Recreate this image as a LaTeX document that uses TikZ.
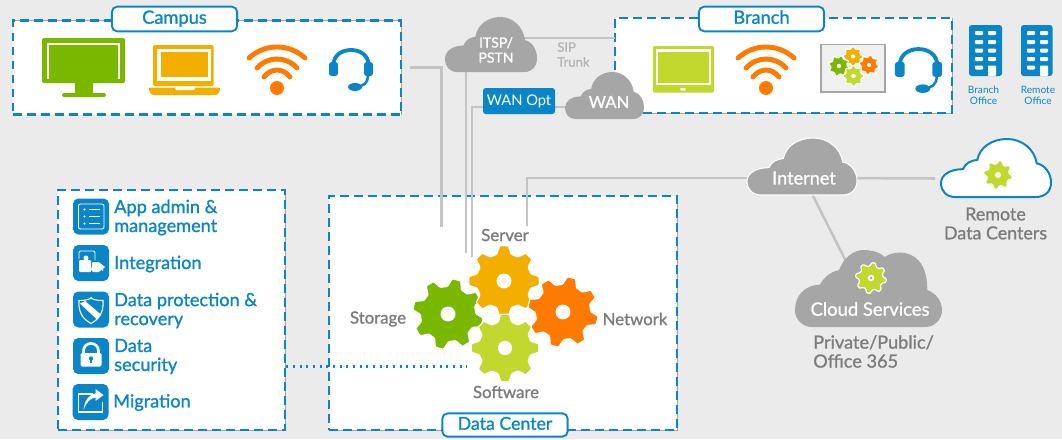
\documentclass[tikz,border=0pt]{standalone}
\usepackage{fontspec}
\setmainfont{Lato}
\newfontfamily\medfont{Lato}[FakeBold=1.1]

\definecolor{pagegrey}{HTML}{EBEBEB}
\definecolor{dellblue}{HTML}{0A86C8}
\definecolor{linegrey}{HTML}{C4C4C4}
\definecolor{cloudgrey}{HTML}{A6A6A6}
\definecolor{labelgrey}{HTML}{7C7C7C}
\definecolor{sipgrey}{HTML}{B4B4B4}
\definecolor{geargreen}{HTML}{7AB800}
\definecolor{gearlime}{HTML}{C1D82F}
\definecolor{gearyellow}{HTML}{F2AF00}
\definecolor{gearorange}{HTML}{FF7A00}

\pgfdeclarelayer{boxes}
\pgfdeclarelayer{links}
\pgfdeclarelayer{clouds}
\pgfsetlayers{boxes,links,clouds,main}

\tikzset{
	dashbox/.style={fill=white,draw=dellblue,line width=1.8pt,dash pattern=on 6.5pt off 4pt,inner sep=0pt,
		preaction={draw=cloudgrey,line width=.5pt,solid}},
	titlebox/.style={fill=white,draw=dellblue,line width=1.4pt,rounded corners=4pt,text=dellblue,
		text height=9.8pt,text depth=2.7pt,
		minimum width=94pt,minimum height=18.5pt,inner sep=0pt,font=\fontsize{13.7}{15}\medfont},
	link/.style={draw=linegrey,line width=1.9pt},
	applabel/.style={anchor=west,align=left,inner sep=0pt,text=dellblue,font=\fontsize{13.6}{14.2}\medfont},
	greylabel/.style={inner sep=0pt,text=labelgrey,font=\fontsize{12.6}{14.2}\medfont},
	cloudlabel/.style={inner sep=0pt,text=white,font=\fontsize{13.6}{15}\medfont},
	officelabel/.style={inner sep=0pt,align=center,text=dellblue,font=\fontsize{7.6}{8.4}\selectfont},
	tile/.style={fill=dellblue,rounded corners=4pt,minimum size=27pt,inner sep=0pt},
	wifiarc/.style={draw=gearorange,line width=3.7pt,line cap=round},
}

% bumps: left, bottom, width, height
\newcommand{\cloudblob}[5]{
	\filldraw[#1,shift={(#2,#3)},x=#4*.75pt,y=#5*.75pt]
		(.13,0) .. controls (.05,0) and (0,.1) .. (0,.24)
		.. controls (0,.38) and (.08,.48) .. (.2,.48)
		.. controls (.22,.58) and (.27,.63) .. (.33,.64)
		.. controls (.35,.85) and (.46,1) .. (.6,1)
		.. controls (.74,1) and (.85,.82) .. (.87,.58)
		.. controls (.95,.55) and (1,.4) .. (1,.25)
		.. controls (1,.1) and (.95,0) .. (.86,0) -- cycle;
}
% x, y, radius, colour, rotation
\newcommand{\gearicon}[5]{
	\begin{scope}[shift={(#1,#2)},scale=#3]
		\filldraw[draw=white,line width=.9pt,fill=#4,rounded corners=.7pt] (#5-25:.78)
			\foreach \a in {0,45,...,315}{ -- (#5+\a-15:.78) -- (#5+\a-7:1) -- (#5+\a+7:1) -- (#5+\a+15:.78)} -- cycle;
		\fill[white] (0,0) circle (.21);
	\end{scope}
}
\newcommand{\wifiicon}[1]{
	\begin{scope}[shift={(#1,0)}]
		\draw[wifiarc] (-28,58) .. controls (-12,43.3) and (12,43.3) .. (28,58);
		\draw[wifiarc] (-20,68) .. controls (-9,56) and (9,56) .. (20,68);
		\draw[wifiarc] (-13,77) .. controls (-6,67.7) and (6,67.7) .. (13,77);
		\fill[gearorange] (0,88) circle (7);
	\end{scope}
}
% x, top, scale
\newcommand{\headset}[3]{
	\begin{scope}[shift={(#1,#2)},scale=#3]
		\draw[dellblue,line width=2.9pt] (-17.5,16) .. controls (-17.5,-4) and (17.5,-4) .. (17.5,16);
		\fill[dellblue,rounded corners=2pt] (-22,13) rectangle (-13,27);
		\fill[dellblue,rounded corners=2pt] (13,13) rectangle (22,27);
		\draw[dellblue,line width=1.9pt] (17,27) .. controls (17,34) and (12,38) .. (4,38);
		\fill[dellblue] (4,38) ellipse (7 and 4);
	\end{scope}
}
\newcommand{\officeblock}[2]{
	\fill[dellblue,rounded corners=2pt] (#1,25) rectangle (#1+#2,76);
	\foreach \ry in {31,40,48.5,57,65.5}{
		\fill[white,rounded corners=.7pt] (#1+6,\ry) rectangle (#1+14,\ry+4);
	}
	\foreach \ry in {31,40,48.5,57}{
		\fill[white,rounded corners=.7pt] (#1+19,\ry) rectangle (#1+27,\ry+4);
	}
	\fill[white,rounded corners=.7pt] (#1+19,65.5) rectangle (#1+27,76);
}

\begin{document}
\begin{tikzpicture}[x=.75pt,y=-.75pt]
	\useasboundingbox (0,0) rectangle (1062,439);
	\begin{pgfonlayer}{boxes}
		\fill[pagegrey] (0,0) rectangle (1062,439);
		\node[dashbox,minimum width=291pt,minimum height=70.5pt] (campus) at (207,67.5) {};
		\node[dashbox,minimum width=252.75pt,minimum height=71.25pt] (branch) at (783.5,65.5) {};
		\node[dashbox,minimum width=170.25pt,minimum height=180pt] (apps) at (171.5,310) {};
		\node[dashbox,minimum width=261pt,minimum height=175.5pt] (datacenter) at (503,313) {};
	\end{pgfonlayer}

	\node[titlebox] (campustitle) at (174.5,19) {Campus};
	\node[titlebox] (branchtitle) at (761.5,19) {Branch};
	\node[titlebox,minimum height=17.5pt,font=\fontsize{13.3}{15}\medfont] (dctitle) at (505,425) {Data Center};

	% clouds and their words
	\node[cloudlabel,align=center,font=\fontsize{10.5}{11.3}\medfont] (itsp) at (496,50) {ITSP/\\PSTN};
	\node[cloudlabel,font=\fontsize{12.5}{15}\medfont] (wan) at (609,102) {WAN};
	\node[cloudlabel] (internet) at (804,178) {Internet};
	\node[cloudlabel,font=\fontsize{13.8}{15}\medfont] (services) at (870,309) {Cloud Services};
	\node[fill=dellblue,rounded corners=2pt,text=white,minimum width=54pt,minimum height=19.5pt,inner sep=0pt,
		font=\fontsize{11}{14}\selectfont] (wanopt) at (519,101) {WAN Opt};
	\node[inner sep=0pt,align=left,anchor=west,text=sipgrey,font=\fontsize{9.8}{11.2}\medfont] (sip) at (557,54.5) {SIP\\Trunk};

	\coordinate (storagein) at (441.5,227);
	\coordinate (softwarein) at (466,253);
	\coordinate (softwareinb) at (472,257);
	\coordinate (serverin) at (527,226);
	\coordinate (sipin) at (615,38);
	\coordinate (remoteport) at (935,178.5);
	\coordinate (dotend) at (467,366.5);

	\begin{pgfonlayer}{links}
		\draw[link,shorten <=6pt] (campus.east) -| (storagein);
		\draw[link] (itsp.south -| softwarein) -- (softwarein);
		\draw[link] ([yshift=-4.5pt]wanopt.west) -| (softwareinb);
		\draw[link] ([yshift=-4.5pt]wanopt.east) -- ([yshift=-3.75pt]wan.west);
		\draw[link,line width=2.2pt] (itsp |- sipin) -- (sipin);
		\draw[link] (internet.west) -| (serverin);
		\draw[link] (internet.east) -- (remoteport);
		\draw[link] (internet) -- (services);
	\end{pgfonlayer}
	\draw[dellblue,line width=1.6pt,dash pattern=on 1.6pt off 3.4pt] (apps.east |- dotend) -- (dotend);

	\begin{pgfonlayer}{clouds}
		\cloudblob{fill=cloudgrey,draw=none}{445}{72}{92}{55}
		\cloudblob{fill=cloudgrey,draw=none}{565}{119}{79}{47}
		\cloudblob{fill=cloudgrey,draw=white,line width=.8pt}{747}{195}{110}{57}
		\cloudblob{fill=white,draw=dellblue,line width=1.5pt}{941}{197}{110}{58}
		\fill[cloudgrey,shift={(795,327)},x=147*.75pt,y=77*.75pt]
			(.114,0) .. controls (.05,0) and (0,.1) .. (0,.217)
			.. controls (0,.38) and (.05,.54) .. (.17,.55)
			.. controls (.2,.66) and (.25,.72) .. (.3,.74)
			.. controls (.33,.9) and (.4,1) .. (.466,1)
			.. controls (.52,1) and (.58,.97) .. (.61,.91)
			.. controls (.65,.96) and (.7,.98) .. (.75,.96)
			.. controls (.85,.92) and (.9,.75) .. (.9,.48)
			.. controls (.96,.44) and (1,.33) .. (1,.22)
			.. controls (1,.1) and (.95,0) .. (.886,0) -- cycle;
	\end{pgfonlayer}
	\gearicon{871}{278}{15.5}{gearlime}{10}
	\fill[cloudgrey] (871,278) circle (1.5);
	\gearicon{998}{175}{14.5}{gearlime}{10}

	\node[greylabel,align=center,font=\fontsize{13.4}{14.2}\medfont] (remotelabel) at (995.5,223.5) {Remote\\Data Centers};
	\node[greylabel,align=left,anchor=west,font=\fontsize{13.6}{14.2}\medfont] (serviceslabel) at (813,351.5) {Private/Public/\\Office 365};

	% campus row
	\fill[geargreen,rounded corners=1.5pt] (42,38) rectangle (125,83);
	\draw[white,line width=1.5pt] (48,79) -- (48,43.5) -- (118.5,43.5) -- (118.5,79);
	\fill[geargreen] (75,83) rectangle (93,94);
	\fill[geargreen,rounded corners=1.2pt] (62,93) rectangle (106,97);

	\fill[gearyellow,rounded corners=1pt] (153,45) rectangle (213.5,86);
	\fill[white] (157,48.5) rectangle (210.5,80.5);
	\fill[gearyellow] (161,52) rectangle (207.5,77);
	\fill[gearyellow,rounded corners=2pt] (148,87.5) -- (221,87.5) -- (218,95) -- (151,95) -- cycle;
	\fill[white,rounded corners=1pt] (175,87) rectangle (195,90);

	\wifiicon{277}
	\headset{351}{49}{1}

	% branch row
	\fill[gearlime,rounded corners=1pt] (653,46) rectangle (714,92.5);
	\fill[white] (656,49) rectangle (711,85);
	\fill[gearlime] (658,52) rectangle (708.5,82.5);
	\fill[white,rounded corners=.8pt] (680,88) rectangle (686,90.5);

	\wifiicon{766}

	\draw[cloudgrey,fill=black!6,line width=1.2pt] (821,44.5) rectangle (885,92);
	\gearicon{853}{56.5}{10}{gearyellow}{0}
	\gearicon{839}{66}{10.5}{geargreen}{15}
	\gearicon{869}{65}{10}{gearorange}{10}
	\gearicon{853.5}{76}{10.5}{gearlime}{0}

	\headset{918.5}{48}{1.07}

	\officeblock{969}{33}
	\officeblock{1021}{31.5}
	\node[officelabel] (branchoffice) at (983.5,95.5) {Branch\\Office};
	\node[officelabel] (remoteoffice) at (1038,95.5) {Remote\\Office};

	% left panel
	\foreach \i/\x/\y in {1/91/216.5,2/91/263,3/91/309.5,4/91/356,5/90.5/402}{
		\node[tile] (tile\i) at (\x,\y) {};
	}
	\node[applabel] (adminlabel) at (114,217.5) {App admin \&\\management};
	\node[applabel] (integrationlabel) at (114,264) {Integration};
	\node[applabel] (protectlabel) at (114,310.5) {Data protection \&\\recovery};
	\node[applabel] (securitylabel) at (114,356.5) {Data\\security};
	\node[applabel] (migrationlabel) at (113,402.5) {Migration};

	\begin{scope}[shift={(tile1)}]
		\draw[white,line width=.7pt,rounded corners=1.5pt] (-12.5,-12.5) rectangle (13,12.5);
		\foreach \y in {-7,0,7}{
			\fill[white] (-6.5,\y) circle (1.2);
			\draw[white,line width=.7pt] (-2,\y) -- (9,\y);
		}
	\end{scope}
	\begin{scope}[shift={(tile2)}]
		\fill[white,rounded corners=.8pt] (-12,-3) rectangle (0,9);
		\fill[white] (-2,6) circle (3);
		\fill[white,rounded corners=.8pt] (1,-1) rectangle (9,9);
		\fill[white] (8,4) -- (12,4) -- (12,8) -- cycle;
		\fill[white] (9,0) -- (14,4) -- (9,8) -- cycle;
		\draw[white,line width=.7pt,rounded corners=1pt] (-12,-4) -- (-12,-12) -- (4,-12) -- (4,-3);
		\fill[white] (-5,-5) circle (2.5);
	\end{scope}
	\begin{scope}[shift={(tile3)}]
		\draw[white,line width=.8pt] (-12,-9) .. controls (-5,-9) and (-1,-10) .. (0,-12) .. controls (1,-10) and (5,-9) .. (12,-9)
			.. controls (13,4) and (7,10) .. (0,14) .. controls (-7,10) and (-13,4) .. (-12,-9) -- cycle;
		\fill[white] (-11,-6) -- (-6,-8.5) -- (10,5) -- (6,10) -- cycle;
	\end{scope}
	\begin{scope}[shift={(tile4)}]
		\draw[white,line width=2pt] (-7.5,0) -- (-7.5,-5) .. controls (-7.5,-15) and (7.5,-15) .. (7.5,-5) -- (7.5,0);
		\fill[white,rounded corners=1pt] (-10.5,-3) rectangle (10.5,10.5);
		\fill[dellblue] (0,2.5) circle (2.2);
		\fill[dellblue] (-1.1,2.5) rectangle (1.1,7);
	\end{scope}
	\begin{scope}[shift={(tile5)}]
		\draw[white,line width=1.4pt] (2,-8) -- (-12,-8) -- (-12,10) -- (12,10) -- (12,0);
		\fill[white] (-7,8) .. controls (-6,-2) and (-1,-8) .. (5,-8.5) -- (5,-13) -- (13,-7) -- (5,-1) -- (5,-4.5)
			.. controls (0,-4) and (-4,0) .. (-7,8) -- cycle;
	\end{scope}

	% gears in the middle
	\gearicon{448}{314}{35.5}{geargreen}{14}
	\gearicon{504}{281}{35.5}{gearyellow}{0}
	\gearicon{563}{312}{35.5}{gearorange}{14}
	\gearicon{505}{348}{34}{gearlime}{0}

	\node[greylabel] (serverlabel) at (505,235) {Server};
	\node[greylabel] (storagelabel) at (378,319) {Storage};
	\node[greylabel] (networklabel) at (635,319) {Network};
	\node[greylabel] (softwarelabel) at (506,392) {Software};
\end{tikzpicture}
\end{document}
